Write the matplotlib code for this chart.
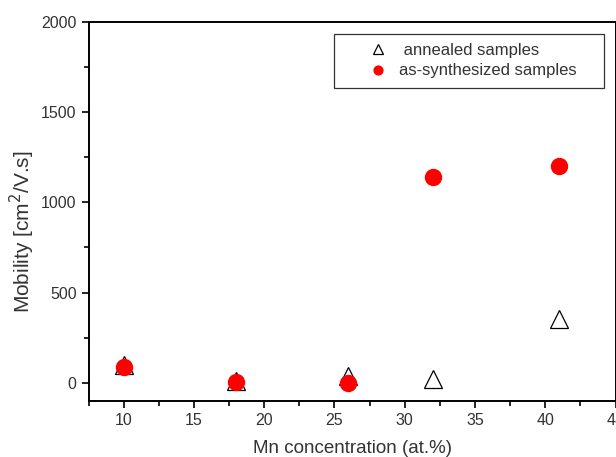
import numpy as np
import matplotlib.pyplot as plt
from matplotlib.ticker import MultipleLocator

# Mn concentration (at.%)
mn_conc = [10, 18, 26, 32, 41]
annealed = [100, 10, 40, 22, 355]
as_synth = [90, 5, 0, 1140, 1200]

plt.rcParams["font.family"] = ["Liberation Sans", "DejaVu Sans"]
text_color = "#333333"

fig = plt.figure(figsize=(6.16, 4.57), dpi=100)
ax = fig.add_axes([88.5 / 616, 1 - 401 / 457, (615.5 - 88.5) / 616, (401 - 21.5) / 457])

ax.plot(mn_conc, annealed, linestyle="none", marker="^", ms=13.5,
        mfc="white", mec="black", mew=0.9, label=" annealed samples    ", zorder=2)
ax.plot(mn_conc, as_synth, linestyle="none", marker="o", ms=11.5,
        mfc="#ff0000", mec="#ff0000", label="as-synthesized samples    ", zorder=3)

ax.set_xlim(7.5, 45)
ax.set_ylim(-100, 2000)
ax.xaxis.set_major_locator(MultipleLocator(5))
ax.xaxis.set_minor_locator(MultipleLocator(2.5))
ax.yaxis.set_major_locator(MultipleLocator(500))
ax.yaxis.set_minor_locator(MultipleLocator(250))

ax.tick_params(which="both", direction="out", top=False, right=False,
               width=1.2, labelsize=11.5, labelcolor=text_color)
ax.tick_params(which="major", length=5)
ax.tick_params(which="minor", length=3.5)
for s in ax.spines.values():
    s.set_linewidth(1.4)

ax.set_xlabel("Mn concentration (at.%)", fontsize=13.5, color=text_color)
ax.set_ylabel("Mobility [cm$^2$/V.s]", fontsize=15, color=text_color)
ax.xaxis.set_label_coords(0.5, -0.103)
ax.yaxis.set_label_coords(-0.098, 0.445)

leg = ax.legend(loc="upper left", bbox_to_anchor=((334 - 88.5) / 527, (401 - 34) / 379.5),
                fontsize=12, markerscale=0.55, frameon=True, fancybox=False,
                edgecolor="black", borderpad=0.55, handlelength=4.2,
                handletextpad=-0.84, labelspacing=0.32, borderaxespad=0)
leg.get_frame().set_linewidth(0.9)
for t in leg.get_texts():
    t.set_color(text_color)

fig.savefig("out.png", dpi=100)
